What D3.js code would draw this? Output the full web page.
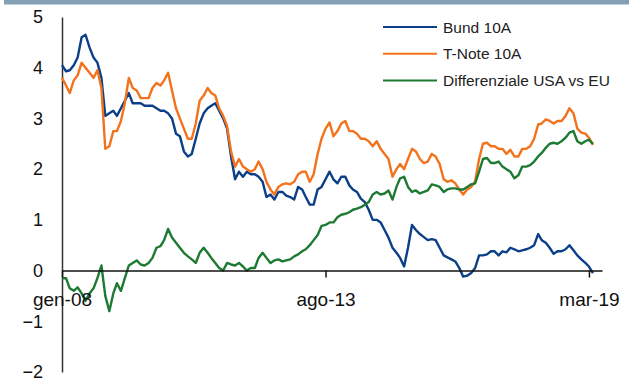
<!DOCTYPE html>
<html>
<head>
<meta charset="utf-8">
<script src="https://cdn.jsdelivr.net/npm/d3@7"></script>
<style>
  body { margin: 0; background: #fff; }
  svg { display: block; font-family: "Liberation Sans", Arial, sans-serif; }
</style>
</head>
<body>
<svg id="chart" width="629" height="379"></svg>
<script>
// monthly readings, Jan 2008 .. Apr 2019 (index 0 = gen-08)
const startYear = 2008;

const bund = [
  4.05, 3.93, 3.95, 4.05, 4.2, 4.6, 4.65, 4.4, 4.2, 4.1, 3.8, 3.05,
  3.1, 3.15, 3.05, 3.2, 3.35, 3.5, 3.3, 3.3, 3.3, 3.25, 3.25, 3.25,
  3.2, 3.15, 3.15, 3.1, 3.0, 2.7, 2.65, 2.35, 2.25, 2.3, 2.6, 2.9,
  3.1, 3.2, 3.25, 3.3, 3.15, 3.0, 2.8, 2.25, 1.8, 1.95, 1.85, 1.95,
  1.9, 1.9, 1.85, 1.75, 1.45, 1.5, 1.4, 1.55, 1.55, 1.48, 1.45, 1.4,
  1.65, 1.6, 1.45, 1.3, 1.3, 1.6, 1.65, 1.8, 1.95, 1.8, 1.72, 1.85,
  1.85, 1.68, 1.6, 1.55, 1.42, 1.35, 1.2, 1.0, 1.0, 0.95, 0.8, 0.65,
  0.45, 0.35, 0.25, 0.08, 0.45, 0.9, 0.8, 0.72, 0.66, 0.6, 0.62, 0.6,
  0.45, 0.3, 0.26, 0.22, 0.18, 0.05, -0.12, -0.1, -0.05, 0.05, 0.3, 0.3,
  0.32, 0.38, 0.38, 0.3, 0.38, 0.36, 0.45, 0.42, 0.38, 0.4, 0.42, 0.45,
  0.5, 0.72, 0.6, 0.55, 0.45, 0.33, 0.38, 0.38, 0.42, 0.5, 0.4, 0.3,
  0.22, 0.15, 0.08, -0.05
];

const tnote = [
  3.8, 3.65, 3.5, 3.75, 3.85, 4.1, 4.0, 3.9, 3.8, 3.95, 3.6, 2.4,
  2.45, 2.75, 2.75, 2.95, 3.3, 3.8, 3.6, 3.55, 3.4, 3.4, 3.4, 3.6,
  3.7, 3.65, 3.75, 3.9, 3.55, 3.2, 3.0, 2.8, 2.6, 2.6, 2.9, 3.35,
  3.45, 3.6, 3.5, 3.45, 3.2, 3.05, 2.85, 2.35, 2.05, 2.2, 2.05, 2.0,
  1.95, 2.0, 2.15, 2.0, 1.75, 1.6, 1.5, 1.65, 1.7, 1.72, 1.7, 1.75,
  1.9, 1.95, 1.95, 1.75, 1.9, 2.3, 2.6, 2.8, 2.92, 2.65, 2.75, 2.9,
  2.95, 2.75, 2.75, 2.7, 2.6, 2.6, 2.55, 2.45, 2.55, 2.4, 2.3, 2.2,
  1.85, 2.0, 2.1, 2.0, 2.2, 2.4, 2.35, 2.2, 2.12, 2.15, 2.3, 2.25,
  2.1, 1.8, 1.75, 1.78, 1.72, 1.6, 1.5, 1.6, 1.65, 1.75, 2.2, 2.5,
  2.52, 2.45, 2.45, 2.4, 2.4, 2.3, 2.38, 2.25, 2.25, 2.4, 2.4, 2.45,
  2.6, 2.88, 2.9, 2.98, 2.95, 2.9, 2.95, 2.95, 3.05, 3.2, 3.1, 2.8,
  2.72, 2.7, 2.62, 2.48
];

const spread = [
  -0.15, -0.15, -0.35, -0.4, -0.33, -0.45, -0.6, -0.45, -0.35, -0.15, 0.1, -0.5,
  -0.8, -0.45, -0.25, -0.4, -0.15, 0.1, 0.15, 0.2, 0.12, 0.1, 0.15, 0.25,
  0.45, 0.48, 0.6, 0.82, 0.65, 0.55, 0.45, 0.35, 0.28, 0.22, 0.15, 0.35,
  0.45, 0.35, 0.25, 0.15, 0.05, 0.0, 0.15, 0.12, 0.1, 0.15, 0.08, 0.0,
  0.05, 0.05, 0.25, 0.35, 0.25, 0.15, 0.2, 0.22, 0.18, 0.2, 0.22, 0.28,
  0.32, 0.38, 0.42, 0.5, 0.6, 0.7, 0.88, 0.9, 0.95, 0.95, 1.05, 1.1,
  1.12, 1.15, 1.2, 1.22, 1.25, 1.3, 1.35, 1.5, 1.55, 1.5, 1.52, 1.58,
  1.4, 1.65, 1.82, 1.85, 1.65, 1.55, 1.58, 1.52, 1.55, 1.58, 1.7, 1.68,
  1.65, 1.55, 1.6, 1.62, 1.62, 1.6, 1.6, 1.65, 1.7, 1.72, 1.95, 2.2,
  2.22, 2.12, 2.12, 2.15, 2.05, 2.0, 1.95, 1.82, 1.88, 2.05, 2.05, 2.08,
  2.15, 2.25, 2.32, 2.42, 2.5, 2.52, 2.5, 2.55, 2.62, 2.72, 2.75, 2.55,
  2.5, 2.55, 2.58, 2.5
];

const seriesNames = ["Bund 10A", "T-Note 10A", "Differenziale USA vs EU"];
const seriesColors = ["#0b3f88", "#f3721c", "#1d7a32"];
const yTicks = [-2, -1, 0, 1, 2, 3, 4, 5];
const xTickDates = [new Date(2008, 0, 1), new Date(2013, 7, 1), new Date(2019, 2, 1)];
const xTickLabels = ["gen-08", "ago-13", "mar-19"];

const svg = d3.select("#chart");

// band along the top edge
svg.append("rect")
  .attr("x", 4).attr("y", 0)
  .attr("width", 625).attr("height", 4.5)
  .attr("fill", "#83a0b5");

const x = d3.scaleTime()
  .domain([new Date(2008, 0, 1), new Date(2019, 5, 10)])
  .range([62, 602]);

const y = d3.scaleLinear()
  .domain([-2, 5])
  .range([372, 17]);

const series = [bund, tnote, spread].map((vals, i) => ({
  name: seriesNames[i],
  color: seriesColors[i],
  values: vals.map((v, m) => ({ date: new Date(startYear, m, 1), v }))
}));

const line = d3.line()
  .x(d => x(d.date))
  .y(d => y(d.v));

// y axis
const yAxis = svg.append("g")
  .attr("transform", "translate(62,0)")
  .call(d3.axisLeft(y).tickValues(yTicks).tickSize(0).tickPadding(19).tickFormat(d3.format("d")));
yAxis.select(".domain").attr("stroke", "#333").attr("stroke-width", 1.5);
yAxis.selectAll("text")
  .attr("font-size", 18)
  .attr("font-family", "'Liberation Sans', Arial, sans-serif")
  .attr("fill", "#111");

// series lines
svg.append("g")
  .selectAll("path")
  .data(series)
  .join("path")
  .attr("fill", "none")
  .attr("stroke", d => d.color)
  .attr("stroke-width", 2.4)
  .attr("stroke-linejoin", "round")
  .attr("d", d => line(d.values));

// x axis on the zero line
const xAxis = svg.append("g")
  .attr("transform", `translate(0,${y(0)})`)
  .call(d3.axisBottom(x)
    .tickValues(xTickDates)
    .tickSize(7)
    .tickSizeOuter(0)
    .tickPadding(15)
    .tickFormat((d, i) => xTickLabels[i]));
xAxis.select(".domain").attr("stroke", "#111").attr("stroke-width", 1.5);
xAxis.selectAll(".tick line").attr("stroke", "#111").attr("stroke-width", 1.5);
xAxis.selectAll("text")
  .attr("font-size", 19)
  .attr("font-family", "'Liberation Sans', Arial, sans-serif")
  .attr("fill", "#111");

// legend
const legend = svg.append("g")
  .selectAll("g")
  .data(series)
  .join("g")
  .attr("transform", (d, i) => `translate(383,${27 + i * 26.7})`);

legend.append("line")
  .attr("x1", 0).attr("x2", 54)
  .attr("stroke", d => d.color)
  .attr("stroke-width", 2);

legend.append("text")
  .attr("x", 60)
  .attr("y", 5.5)
  .attr("font-size", 15.5)
  .attr("fill", "#222")
  .text(d => d.name);
</script>
</body>
</html>
